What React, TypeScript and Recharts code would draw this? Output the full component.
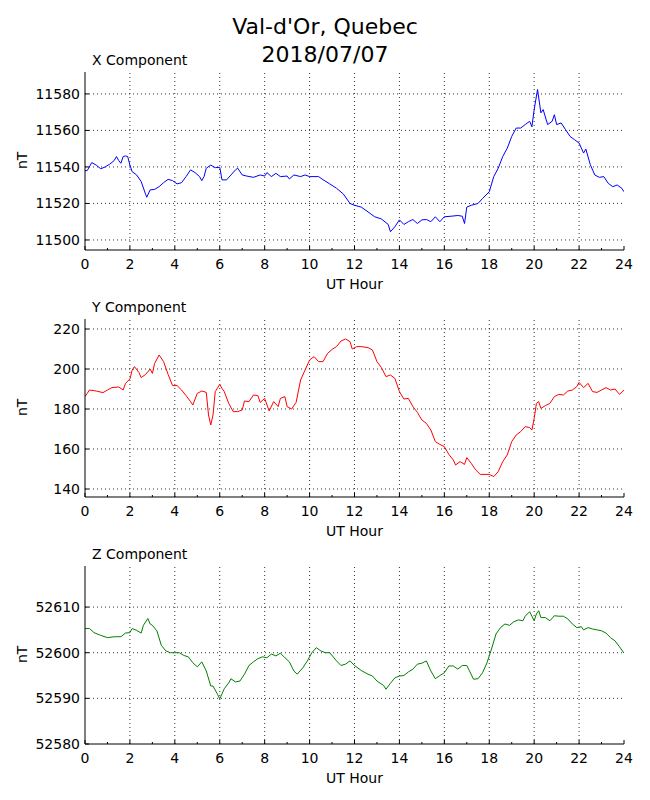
import React from 'react';
import { LineChart, Line, XAxis, YAxis, ReferenceLine } from 'recharts';

document.body.style.margin = '0';

const FONT = '"DejaVu Sans", sans-serif';

// hour ticks along the bottom (labelled every 2 h)
const hourTicks = [0, 1, 2, 3, 4, 5, 6, 7, 8, 9, 10, 11, 12, 13, 14, 15, 16, 17, 18, 19, 20, 21, 22, 23, 24];
const hourGrid = [2, 4, 6, 8, 10, 12, 14, 16, 18, 20, 22];

// X component (nT)
const xHours = [
  0, 0.1, 0.3, 0.5, 0.7, 0.9, 1.1, 1.3, 1.4, 1.5, 1.6, 1.7, 1.8, 1.9, 2.0, 2.1, 2.3, 2.5, 2.7, 2.75,
  2.9, 3.1, 3.3, 3.5, 3.7, 3.9, 4.1, 4.3, 4.5, 4.7, 4.9, 5.1, 5.2, 5.3, 5.4, 5.6, 5.8, 6.0, 6.1, 6.3,
  6.5, 6.7, 6.8, 7.0, 7.2, 7.5, 7.8, 8.0, 8.1, 8.3, 8.5, 8.7, 9.0, 9.1, 9.3, 9.6, 9.8, 10.0, 10.4, 10.6,
  10.9, 11.2, 11.5, 11.8, 12.0, 12.3, 12.6, 12.9, 13.2, 13.5, 13.6, 13.8, 14.0, 14.2, 14.4, 14.6, 14.8, 15.0, 15.2, 15.4,
  15.6, 15.8, 16.0, 16.3, 16.6, 16.8, 16.9, 17.0, 17.2, 17.5, 17.7, 18.0, 18.2, 18.4, 18.6, 18.8, 19.0, 19.2, 19.4, 19.6,
  19.8, 19.9, 20.0, 20.15, 20.3, 20.4, 20.6, 20.8, 20.9, 21.0, 21.2, 21.4, 21.6, 21.8, 22.0, 22.2, 22.3, 22.5, 22.7, 22.9,
  23.1, 23.3, 23.5, 23.7, 23.9, 24.0,
];
const xValues = [
  11538, 11538, 11542.4, 11541, 11539, 11540, 11541.5, 11543.5, 11545.7, 11543.5, 11542, 11545.7, 11546, 11545.7, 11541, 11537.4, 11535.6, 11532, 11525, 11523.4,
  11527.4, 11527.7, 11529.2, 11531.4, 11533.2, 11532.5, 11530.7, 11531.4, 11534.7, 11538.4, 11536.9, 11534.7, 11532.5, 11534.7, 11539.3, 11541, 11539.6, 11539.8, 11532.9, 11532.9,
  11535.6, 11538.4, 11539.3, 11535.6, 11535, 11534.3, 11535.6, 11535, 11536.9, 11534.7, 11536.5, 11534.7, 11535, 11533.4, 11535.6, 11534.7, 11535.6, 11534.7, 11534.7, 11533,
  11530.7, 11528.3, 11525.2, 11520, 11519, 11518, 11515.4, 11512.7, 11511.5, 11508.5, 11504.5, 11507.3, 11511, 11508.5, 11510, 11511.2, 11509, 11511, 11511.2, 11510,
  11512.7, 11510, 11512.7, 11513, 11513.4, 11513, 11509, 11518, 11519, 11520, 11522.7, 11526.4, 11534.7, 11539.3, 11545.7, 11550.2, 11556.7, 11561.3, 11561.3, 11563.2,
  11565, 11562, 11571.4, 11582.4, 11569.6, 11571.4, 11563.2, 11565, 11568.6, 11563.2, 11564.1, 11560.4, 11556.7, 11554.9, 11553.1, 11547.6, 11549.8, 11541.2, 11535.6, 11534.3,
  11534.7, 11531, 11529.2, 11530.1, 11528.3, 11526.4,
];
const xTicks = [11500, 11520, 11540, 11560, 11580];

// Y component (nT)
const yHours = [
  0, 0.1, 0.2, 0.5, 0.8, 1.0, 1.2, 1.5, 1.7, 1.8, 2.0, 2.1, 2.2, 2.4, 2.5, 2.7, 2.9, 3.0, 3.1, 3.3,
  3.5, 3.7, 3.9, 4.1, 4.3, 4.5, 4.7, 4.8, 5.0, 5.2, 5.4, 5.5, 5.6, 5.7, 5.8, 6.0, 6.1, 6.2, 6.4, 6.6,
  6.8, 7.0, 7.1, 7.3, 7.5, 7.7, 7.8, 8.0, 8.2, 8.4, 8.6, 8.7, 8.9, 9.0, 9.2, 9.4, 9.6, 9.8, 10.0, 10.2,
  10.4, 10.6, 10.8, 11.0, 11.2, 11.4, 11.6, 11.8, 11.9, 12.1, 12.3, 12.6, 12.8, 13.0, 13.2, 13.4, 13.6, 13.8, 14.0, 14.2,
  14.4, 14.6, 14.8, 15.0, 15.2, 15.4, 15.6, 15.8, 16.0, 16.2, 16.4, 16.5, 16.7, 16.9, 17.0, 17.2, 17.4, 17.6, 18.0, 18.2,
  18.4, 18.6, 18.8, 19.0, 19.2, 19.4, 19.6, 19.8, 19.9, 20.0, 20.1, 20.2, 20.3, 20.5, 20.7, 20.9, 21.1, 21.3, 21.5, 21.7,
  21.9, 22.0, 22.2, 22.4, 22.6, 22.8, 23.0, 23.2, 23.4, 23.6, 23.8, 24.0,
];
const yValues = [
  186.2, 187.8, 189.5, 189, 188.2, 189.5, 190.7, 191, 189.5, 192.8, 195, 199.5, 201.2, 198.3, 195.7, 197.3, 200, 197.8, 202.8, 207,
  203.7, 197.3, 191.7, 191.7, 189.5, 186.7, 183.7, 182, 187.8, 189, 188.3, 177, 172, 177, 188.7, 192.3, 190.3, 188.7, 182.8, 178.7,
  178.7, 179.5, 184, 183.7, 187, 186.7, 183.3, 185.3, 179, 183.7, 181.2, 185.3, 186.2, 181.2, 180, 183.3, 194.5, 199.5, 204.5, 206.2,
  203.7, 203.7, 207.8, 209.8, 211.2, 214, 215, 213.7, 210, 211.2, 211.2, 210.7, 209.5, 203.7, 200.7, 196.2, 197, 195.3, 188.7, 185,
  185.3, 181.2, 178.3, 174.5, 172.8, 169.5, 163.7, 162.3, 161.2, 157.3, 154.5, 152, 153.7, 152.3, 155.7, 152.8, 149.5, 147.3, 147.3, 146.2,
  148.7, 153.7, 157, 163.7, 167, 168.7, 171.2, 170.7, 169.5, 175.3, 182.8, 183.7, 180.3, 181.7, 182.8, 186.2, 187.3, 187, 189, 189.5,
  191.2, 193.3, 190.7, 192.8, 188.7, 188.3, 189.5, 190.7, 189.5, 190, 187.3, 189.5,
];
const yTicks = [140, 160, 180, 200, 220];

// Z component (nT)
const zHours = [
  0, 0.2, 0.4, 0.7, 1.0, 1.3, 1.6, 1.8, 2.0, 2.1, 2.3, 2.5, 2.6, 2.8, 2.9, 3.0, 3.2, 3.4, 3.6, 3.8,
  4.0, 4.2, 4.4, 4.6, 4.8, 5.0, 5.2, 5.4, 5.6, 5.7, 5.9, 6.0, 6.2, 6.4, 6.5, 6.7, 6.9, 7.1, 7.3, 7.5,
  7.7, 7.9, 8.1, 8.3, 8.5, 8.7, 8.9, 9.1, 9.3, 9.45, 9.7, 9.9, 10.1, 10.3, 10.5, 10.7, 10.9, 11.2, 11.4, 11.6,
  11.8, 12.0, 12.3, 12.6, 12.8, 13.0, 13.3, 13.4, 13.6, 13.8, 14.0, 14.2, 14.4, 14.6, 14.8, 15.0, 15.2, 15.4, 15.6, 15.8,
  16.0, 16.2, 16.4, 16.6, 16.8, 17.0, 17.1, 17.3, 17.5, 17.7, 17.9, 18.1, 18.3, 18.5, 18.7, 18.9, 19.1, 19.3, 19.5, 19.6,
  19.8, 20.0, 20.1, 20.2, 20.3, 20.5, 20.7, 20.9, 21.1, 21.3, 21.5, 21.7, 21.9, 22.1, 22.2, 22.4, 22.6, 22.8, 23.0, 23.2,
  23.4, 23.6, 23.8, 24.0,
];
const zValues = [
  52605.3, 52605.3, 52604.4, 52603.8, 52603.3, 52603.5, 52603.5, 52604.3, 52604.4, 52605.3, 52604.9, 52604.3, 52606, 52607.5, 52606.3, 52606, 52604.8, 52601.6, 52600.4, 52600,
  52600, 52600, 52599.4, 52599.1, 52597.8, 52596.9, 52598, 52596, 52592.7, 52592.7, 52590.9, 52589.9, 52592.1, 52593.4, 52594.3, 52593.6, 52593.8, 52595.3, 52597.2, 52598,
  52598.7, 52599.1, 52598.9, 52599.7, 52599.3, 52599.9, 52598.9, 52598, 52596, 52595.3, 52596.7, 52598.2, 52600, 52601.1, 52600.4, 52600, 52600, 52598.2, 52597.2, 52597.5,
  52598.2, 52597.2, 52596.1, 52595.3, 52594.9, 52593.8, 52592.8, 52592, 52593.3, 52594.5, 52594.9, 52595, 52595.8, 52596.4, 52597.5, 52597.7, 52598.2, 52596, 52594.3, 52595,
  52595.6, 52597.1, 52597.1, 52596.4, 52597.2, 52597.2, 52596.2, 52594.2, 52594.3, 52595.6, 52597.8, 52600.8, 52604.1, 52605.5, 52606.3, 52606, 52606.8, 52607.2, 52607, 52608,
  52609, 52607, 52608.5, 52609.2, 52607.7, 52607.7, 52607, 52608.1, 52608, 52608, 52607.4, 52606.3, 52605.5, 52605.7, 52605, 52605.5, 52605.2, 52605, 52604.8, 52604.3,
  52603.3, 52602.6, 52601.3, 52599.9,
];
const zTicks = [52580, 52590, 52600, 52610];

const W = 650;
const PLOT_LEFT = 85;
const PLOT_RIGHT = 624;
const PLOT_H = 178;
const PAD = 10;
const AXIS_H = 40;
const FS = 14;

const tickText = { fontFamily: FONT, fontSize: FS, fill: '#000' };

function Panel(props: {
  top: number;
  title: string;
  hours: number[];
  values: number[];
  color: string;
  domain: [number, number];
  ticks: number[];
}) {
  const { top, title, hours, values, color, domain, ticks } = props;
  const data = hours.map((h, i) => ({ h, v: values[i] }));
  const plotTop = PAD;
  const plotBottom = PAD + PLOT_H;
  const plotCenter = top + PLOT_H / 2;

  const bottomTick = (p: any) => {
    const major = p.payload.value % 2 === 0;
    return (
      <g>
        <line x1={p.x} x2={p.x} y1={plotBottom} y2={plotBottom - (major ? 4 : 2)} stroke="#000" />
        {major && (
          <text x={p.x} y={plotBottom + 19} textAnchor="middle" {...tickText}>
            {p.payload.value}
          </text>
        )}
      </g>
    );
  };
  const topTick = (p: any) => {
    const major = p.payload.value % 2 === 0;
    return <line x1={p.x} x2={p.x} y1={plotTop} y2={plotTop + (major ? 4 : 2)} stroke="#000" />;
  };
  const leftTick = (p: any) => (
    <g>
      <line x1={PLOT_LEFT} x2={PLOT_LEFT + 4} y1={p.y} y2={p.y} stroke="#000" />
      <text x={PLOT_LEFT - 5} y={p.y} dy="0.36em" textAnchor="end" {...tickText}>
        {p.payload.value}
      </text>
    </g>
  );
  const rightTick = (p: any) => (
    <line x1={PLOT_RIGHT} x2={PLOT_RIGHT - 4} y1={p.y} y2={p.y} stroke="#000" />
  );

  return (
    <>
      <div style={{ position: 'absolute', left: 92, top: top - 20, fontFamily: FONT, fontSize: FS, lineHeight: '16px' }}>
        {title}
      </div>
      <div
        style={{
          position: 'absolute', left: 14, top: plotCenter - 8, width: 16, height: 16,
          fontFamily: FONT, fontSize: FS, lineHeight: '16px', textAlign: 'center',
          transform: 'rotate(-90deg)',
        }}
      >
        nT
      </div>
      <div
        style={{
          position: 'absolute', left: PLOT_LEFT, width: PLOT_RIGHT - PLOT_LEFT, top: top + PLOT_H + 26,
          fontFamily: FONT, fontSize: FS, lineHeight: '16px', textAlign: 'center',
        }}
      >
        UT Hour
      </div>
      <div style={{ position: 'absolute', left: 0, top: top - PAD }}>
        <LineChart width={W} height={PLOT_H + PAD + AXIS_H} data={data} margin={{ top: PAD, right: W - PLOT_RIGHT, bottom: 0, left: 0 }}>
          <XAxis
            xAxisId="b" dataKey="h" type="number" domain={[0, 24]} ticks={hourTicks} interval={0}
            height={AXIS_H} tickSize={0} tickLine={false} axisLine={{ stroke: '#000' }} tick={bottomTick} allowDataOverflow
          />
          <XAxis
            xAxisId="t" orientation="top" dataKey="h" type="number" domain={[0, 24]} ticks={hourTicks} interval={0}
            height={0} tickSize={0} tickLine={false} axisLine={{ stroke: '#000' }} tick={topTick} allowDataOverflow
          />
          <YAxis
            yAxisId="l" type="number" domain={domain} ticks={ticks} interval={0} width={PLOT_LEFT}
            tickSize={0} tickLine={false} axisLine={{ stroke: '#000' }} tick={leftTick} allowDataOverflow
          />
          <YAxis
            yAxisId="r" orientation="right" type="number" domain={domain} ticks={ticks} interval={0} width={0}
            tickSize={0} tickLine={false} axisLine={{ stroke: '#000' }} tick={rightTick} allowDataOverflow
          />
          {hourGrid.map(h => (
            <ReferenceLine key={'gx' + h} xAxisId="b" yAxisId="l" x={h} stroke="#000" strokeWidth={0.8} strokeDasharray="1 3" />
          ))}
          {ticks.filter(v => v > domain[0] && v < domain[1]).map(v => (
            <ReferenceLine key={'gy' + v} xAxisId="b" yAxisId="l" y={v} stroke="#000" strokeWidth={0.8} strokeDasharray="1 3" />
          ))}
          <Line
            xAxisId="b" yAxisId="l" type="linear" dataKey="v" stroke={color} strokeWidth={1}
            dot={false} activeDot={false} isAnimationActive={false}
          />
        </LineChart>
      </div>
    </>
  );
}

export default function App() {
  return (
    <div style={{ position: 'relative', width: W, height: 800, background: '#fff' }}>
      <div
        style={{
          position: 'absolute', left: 0, width: W, top: 13, textAlign: 'center',
          fontFamily: FONT, fontSize: 22, lineHeight: '28px',
        }}
      >
        Val-d'Or, Quebec
        <br />
        2018/07/07
      </div>
      <Panel top={72} title="X Component" hours={xHours} values={xValues} color="#0000ff" domain={[11494.5, 11592]} ticks={xTicks} />
      <Panel top={319} title="Y Component" hours={yHours} values={yValues} color="#ff0000" domain={[136, 225]} ticks={yTicks} />
      <Panel top={566} title="Z Component" hours={zHours} values={zValues} color="#008000" domain={[52580, 52619]} ticks={zTicks} />
    </div>
  );
}
